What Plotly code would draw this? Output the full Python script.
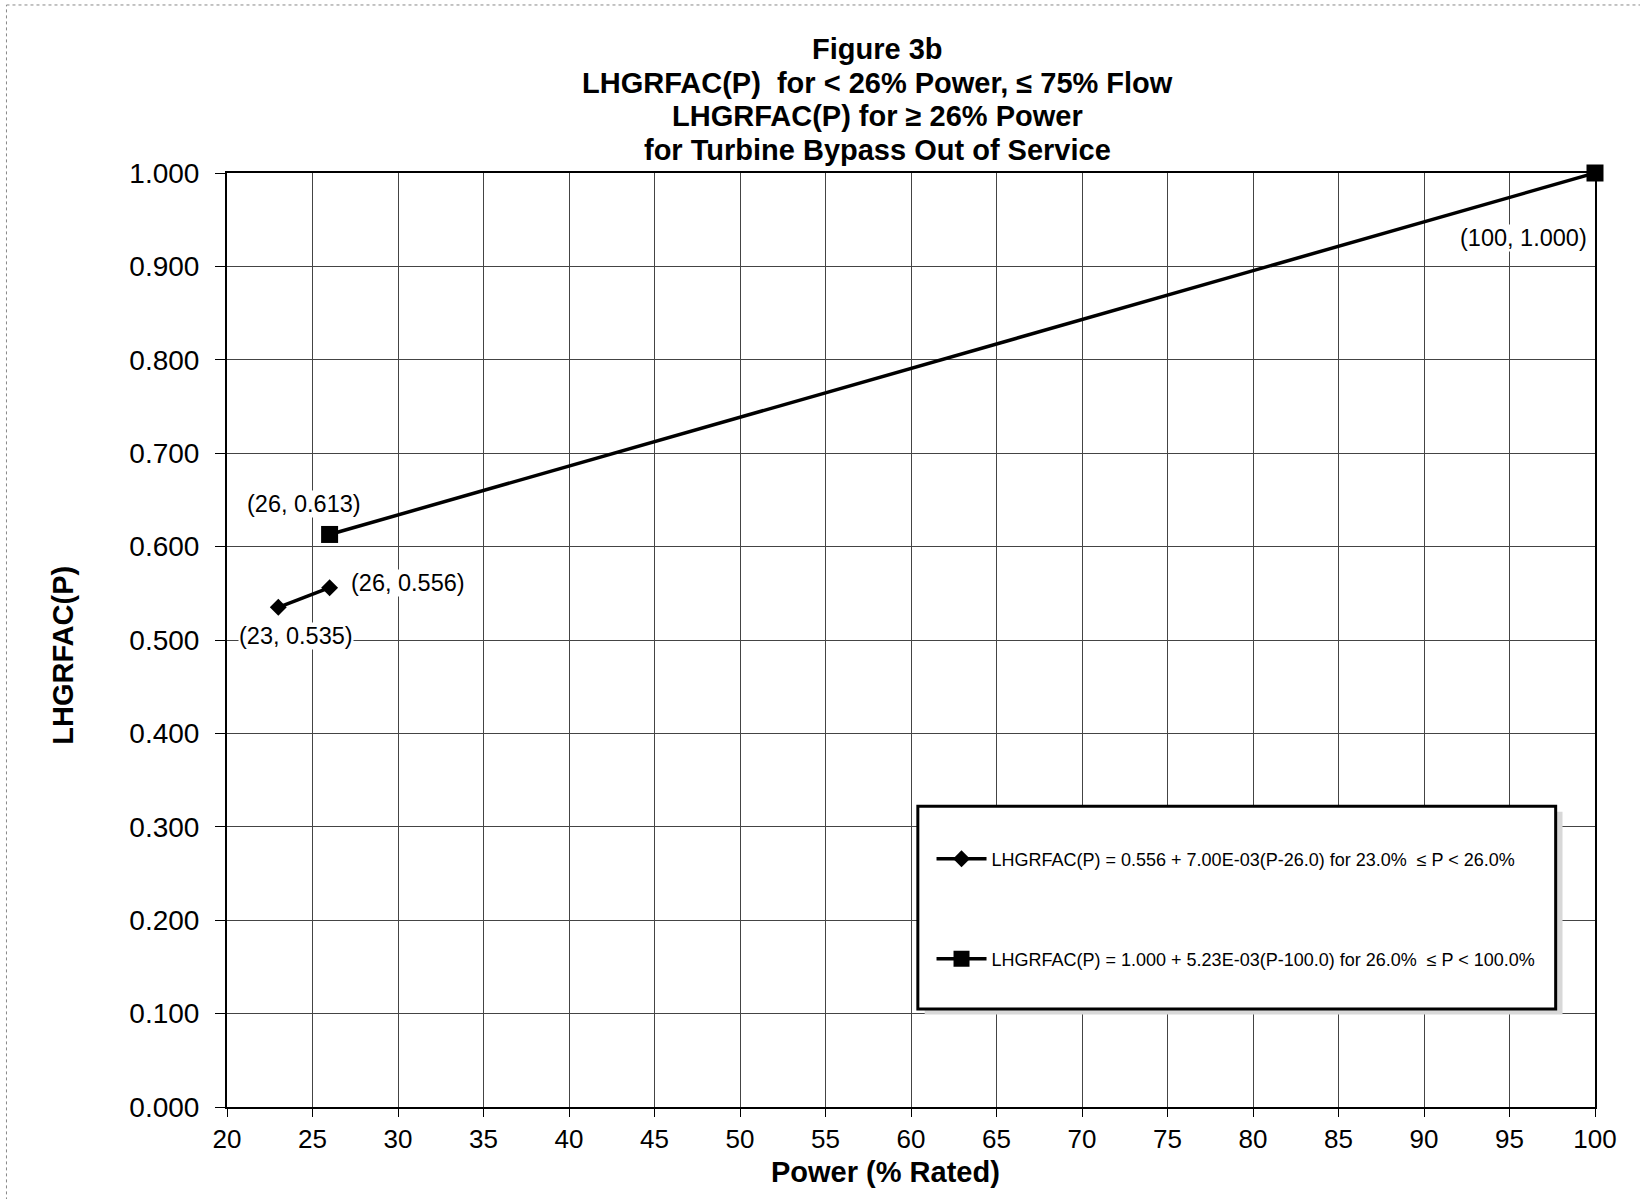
import plotly.graph_objects as go

# Data
power_low = [23, 26]
lhgr_low = [0.535, 0.556]
power_high = [26, 100]
lhgr_high = [0.613, 1.000]

title_lines = [
    "Figure 3b",
    "LHGRFAC(P)  for < 26% Power, \u2264 75% Flow",
    "LHGRFAC(P) for \u2265 26% Power",
    "for Turbine Bypass Out of Service",
]
legend_low = "LHGRFAC(P) = 0.556 + 7.00E-03(P-26.0) for 23.0%  \u2264 P < 26.0%"
legend_high = "LHGRFAC(P) = 1.000 + 5.23E-03(P-100.0) for 26.0%  \u2264 P < 100.0%"
x_title = "Power (% Rated)"
y_title = "LHGRFAC(P)"

FONT = "Liberation Sans, Arial, sans-serif"

fig = go.Figure()

fig.add_trace(go.Scatter(
    x=power_low, y=lhgr_low, mode="lines+markers", name=legend_low,
    line=dict(color="black", width=3.5),
    marker=dict(symbol="diamond", size=13, color="black"),
    legend="legend", cliponaxis=False,
))
fig.add_trace(go.Scatter(
    x=power_high, y=lhgr_high, mode="lines+markers", name=legend_high,
    line=dict(color="black", width=3.5),
    marker=dict(symbol="square", size=17, color="black"),
    legend="legend2", cliponaxis=False,
))

annotations = []
title_y = [1.1328, 1.0964, 1.0610, 1.0246]
for txt, yy in zip(title_lines, title_y):
    annotations.append(dict(
        text="<b>%s</b>" % txt, xref="paper", yref="paper", x=0.4755, y=yy,
        xanchor="center", yanchor="middle", showarrow=False,
        font=dict(family=FONT, size=29, color="black"),
    ))

# data labels
labels = [
    (power_high[0], lhgr_high[0], -26, 30),
    (power_low[1], lhgr_low[1], 78, 5),
    (power_low[0], lhgr_low[0], 18, -29),
    (power_high[1], lhgr_high[1], -72, -65),
]
for px, py, xs, ys in labels:
    annotations.append(dict(
        text="(%d, %.3f)" % (px, py), x=px, y=py, xref="x", yref="y",
        xshift=xs, yshift=ys, showarrow=False, bgcolor="white", borderpad=0,
        font=dict(family=FONT, size=23.5, color="black"),
    ))

annotations.append(dict(
    text="<b>%s</b>" % x_title, xref="paper", yref="paper", x=0.4813, y=-0.0696,
    xanchor="center", yanchor="middle", showarrow=False,
    font=dict(family=FONT, size=29, color="black"),
))
annotations.append(dict(
    text="<b>%s</b>" % y_title, xref="paper", yref="paper", x=-0.1201, y=0.484,
    xanchor="center", yanchor="middle", showarrow=False, textangle=-90,
    font=dict(family=FONT, size=29, color="black"),
))

shapes = [
    # legend shadow
    dict(type="rect", xref="x", yref="y", x0=60.8, x1=98.1, y0=0.099, y1=0.316,
         fillcolor="#d8d8d8", line=dict(width=0), layer="above"),
    # legend box
    dict(type="rect", xref="x", yref="y", x0=60.4, x1=97.7, y0=0.105, y1=0.322,
         fillcolor="white", line=dict(color="black", width=3), layer="above"),
    # page border (scan)
    dict(type="line", xref="paper", yref="paper", x0=-0.1612, x1=1.05, y0=1.1799, y1=1.1799,
         line=dict(color="#888", width=1, dash="dot")),
    dict(type="line", xref="paper", yref="paper", x0=-0.1612, x1=-0.1612, y0=-0.1, y1=1.1799,
         line=dict(color="#888", width=1, dash="dot")),
]

fig.update_layout(
    width=1640, height=1199,
    margin=dict(l=227, r=45, t=173, b=92),
    paper_bgcolor="white", plot_bgcolor="white",
    font=dict(family=FONT, color="black"),
    annotations=annotations, shapes=shapes,
    showlegend=True,
    legend=dict(x=0.515, y=0.2655, xanchor="left", yanchor="middle",
                bgcolor="rgba(0,0,0,0)", borderwidth=0, itemwidth=50,
                font=dict(family=FONT, size=18, color="black")),
    legend2=dict(x=0.515, y=0.1585, xanchor="left", yanchor="middle",
                 bgcolor="rgba(0,0,0,0)", borderwidth=0, itemwidth=50,
                 font=dict(family=FONT, size=18, color="black")),
)

fig.update_xaxes(
    range=[20, 100], dtick=5, tick0=20,
    showgrid=True, gridcolor="#444", gridwidth=1,
    showline=True, linecolor="black", linewidth=2, mirror=True,
    ticks="outside", ticklen=8, tickcolor="black",
    tickfont=dict(family=FONT, size=26, color="black"),
    zeroline=False,
)
fig.update_yaxes(
    range=[0, 1.0], dtick=0.1, tick0=0, tickformat=".3f",
    showgrid=True, gridcolor="#444", gridwidth=1,
    showline=True, linecolor="black", linewidth=2, mirror=True,
    ticks="outside", ticklen=10, tickcolor="black", ticklabelstandoff=10,
    tickfont=dict(family=FONT, size=28, color="black"),
    zeroline=False,
)

fig.write_html("out.html")
